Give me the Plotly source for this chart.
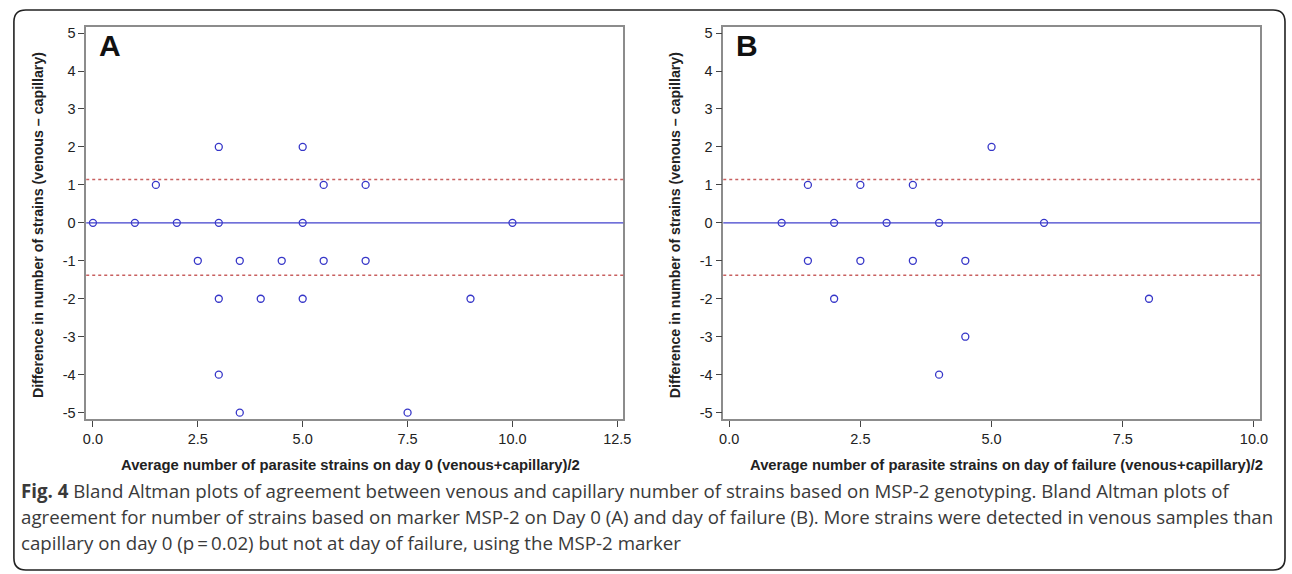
import plotly.graph_objects as go

W, H = 1292, 574

# ---------------- data ----------------
a_avg = [0, 1, 1.5, 2, 2.5, 3, 3, 3, 3, 3.5, 3.5, 4, 4.5, 5, 5, 5, 5.5, 5.5, 6.5, 6.5, 7.5, 9, 10]
a_diff = [0, 0, 1, 0, -1, 2, 0, -2, -4, -1, -5, -2, -1, 2, 0, -2, 1, -1, 1, -1, -5, -2, 0]
b_avg = [1, 1.5, 1.5, 2, 2, 2.5, 2.5, 3, 3.5, 3.5, 4, 4, 4.5, 4.5, 5, 6, 8]
b_diff = [0, 1, -1, 0, -2, 1, -1, 0, 1, -1, 0, -4, -1, -3, 2, 0, -2]
mean_line = [0, 0]            # A, B
upper_loa = [1.14, 1.14]      # A, B
lower_loa = [-1.38, -1.38]    # A, B
a_xticks = [0, 2.5, 5, 7.5, 10, 12.5]
b_xticks = [0, 2.5, 5, 7.5, 10]
y_ticks = [-5, -4, -3, -2, -1, 0, 1, 2, 3, 4, 5]
panel_labels = ["A", "B"]
x_titles = ["Average number of parasite strains on day 0 (venous+capillary)/2",
            "Average number of parasite strains on day of failure (venous+capillary)/2"]
y_title = "Difference in number of strains (venous \u2013 capillary)"
caption_lines = [
    "<b>Fig. 4</b> Bland Altman plots of agreement between venous and capillary number of strains based on MSP-2 genotyping. Bland Altman plots of",
    "agreement for number of strains based on marker MSP-2 on Day 0 (A) and day of failure (B). More strains were detected in venous samples than",
    "capillary on day 0 (p\u2009=\u20090.02) but not at day of failure, using the MSP-2 marker",
]


def px(x):
    return x / W


def py(y):
    return 1 - y / H


MARK = "#3636c8"
LOA = "#c86060"
FRAME = "#8c8c8c"
TXT = "#222222"
FONT = "Liberation Sans, Arial, sans-serif"

fig = go.Figure()
fig.add_trace(go.Scatter(x=a_avg, y=a_diff, mode="markers", xaxis="x", yaxis="y",
                         marker=dict(symbol="circle-open", size=7, color=MARK, line=dict(width=1.3, color=MARK)),
                         showlegend=False))
fig.add_trace(go.Scatter(x=b_avg, y=b_diff, mode="markers", xaxis="x2", yaxis="y2",
                         marker=dict(symbol="circle-open", size=7, color=MARK, line=dict(width=1.3, color=MARK)),
                         showlegend=False))

panels = [
    dict(xd=[83, 625], xr=[-0.16, 12.64], xt=a_xticks, xa="x", ya="y", tdx=-4),
    dict(xd=[726, 1268], xr=[-0.113, 10.12], xt=b_xticks, xa="x2", ya="y2", tdx=15),
]
ydom = [py(420), py(25)]
yr = [-5.17, 5.165]

common_ax = dict(showgrid=False, zeroline=False, showline=True, linecolor=FRAME, linewidth=1.5,
                 mirror=True, ticks="outside", ticklen=6, tickwidth=1, tickcolor="#444",
                 tickfont=dict(family=FONT, size=14.5, color=TXT))

layout_axes = {}
shapes = []
annotations = []
for i, p in enumerate(panels):
    xk = "xaxis" if i == 0 else "xaxis2"
    yk = "yaxis" if i == 0 else "yaxis2"
    layout_axes[xk] = dict(common_ax, domain=[px(p["xd"][0]), px(p["xd"][1])], range=p["xr"],
                           tickvals=p["xt"], ticktext=[f"{v:.1f}" for v in p["xt"]],
                           anchor=p["ya"])
    layout_axes[yk] = dict(common_ax, domain=ydom, range=yr, tickvals=y_ticks,
                           ticktext=[str(v) for v in y_ticks], anchor=p["xa"])
    shapes.append(dict(type="line", xref=f"{p['xa']} domain", yref=p["ya"], x0=0, x1=1,
                       y0=mean_line[i], y1=mean_line[i], line=dict(color="#4040cc", width=1.2)))
    for lv in (upper_loa[i], lower_loa[i]):
        shapes.append(dict(type="line", xref=f"{p['xa']} domain", yref=p["ya"], x0=0, x1=1,
                           y0=lv, y1=lv, line=dict(color=LOA, width=1.5, dash="3px,3px")))
    annotations.append(dict(text=f"<b>{panel_labels[i]}</b>", xref="paper", yref="paper",
                            x=px(p["xd"][0] + 11), y=py(44), xanchor="left", yanchor="middle",
                            showarrow=False, font=dict(family=FONT, size=30, color="#111")))
    annotations.append(dict(text=f"<b>{x_titles[i]}</b>", xref="paper", yref="paper",
                            x=px((p["xd"][0] + p["xd"][1]) / 2 + p["tdx"]), y=py(466),
                            xanchor="center", yanchor="middle",
                            showarrow=False, font=dict(family=FONT, size=14.8, color=TXT)))
    annotations.append(dict(text=f"<b>{y_title}</b>", xref="paper", yref="paper", textangle=-90,
                            x=px(p["xd"][0] - 48), y=py(225), xanchor="center", yanchor="middle",
                            showarrow=False, font=dict(family=FONT, size=14.2, color=TXT)))

for j, line in enumerate(caption_lines):
    annotations.append(dict(text=line, xref="paper", yref="paper", x=px(15), y=py(492 + 26 * j),
                            xanchor="left", yanchor="middle", showarrow=False, align="left",
                            font=dict(family="Open Sans, Noto Sans, sans-serif", size=18.7, color="#3a3a3a")))

x0, y0, x1, y1, r = px(10), py(8), px(1293), py(572), 12
rx, ry = r / W, r / H
path = (f"M {x0+rx},{y0} L {x1-rx},{y0} Q {x1},{y0} {x1},{y0-ry} "
        f"L {x1},{y1+ry} Q {x1},{y1} {x1-rx},{y1} L {x0+rx},{y1} Q {x0},{y1} {x0},{y1+ry} "
        f"L {x0},{y0-ry} Q {x0},{y0} {x0+rx},{y0} Z")
shapes.append(dict(type="path", xref="paper", yref="paper", path=path, line=dict(color="#222", width=1.6)))

fig.update_layout(width=W, height=H, margin=dict(l=0, r=0, t=0, b=0),
                  paper_bgcolor="white", plot_bgcolor="white",
                  shapes=shapes, annotations=annotations, **layout_axes)

fig.write_html("out.html", config={"displayModeBar": False},
               post_script="document.body.style.margin='0';document.body.style.overflow='hidden';"
                           "document.documentElement.style.overflow='hidden';")
